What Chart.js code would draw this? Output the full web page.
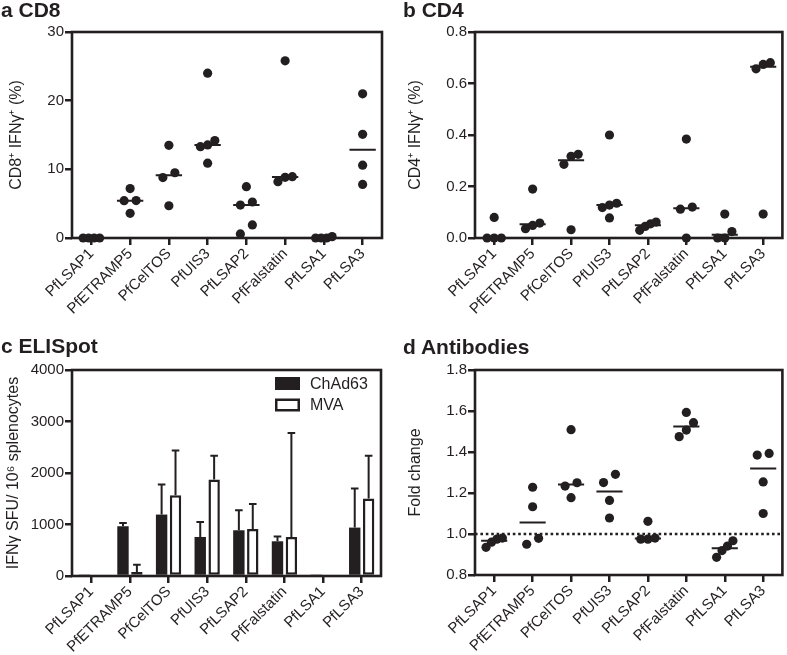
<!DOCTYPE html>
<html><head><meta charset="utf-8">
<script src="https://cdn.jsdelivr.net/npm/chart.js@4.4.1/dist/chart.umd.min.js"></script>
<style>
html,body{margin:0;padding:0;background:#fff;width:787px;height:655px;overflow:hidden;position:relative;}
canvas.panel{position:absolute;}
.title{position:absolute;font:bold 21px 'Liberation Sans',Arial,sans-serif;color:#231f20;line-height:21px;white-space:nowrap;}
</style></head><body>
<canvas id="ca" class="panel" width="395" height="330" style="left:0;top:0"></canvas>
<canvas id="cb" class="panel" width="392" height="330" style="left:395px;top:0"></canvas>
<canvas id="cc" class="panel" width="395" height="325" style="left:0;top:330px"></canvas>
<canvas id="cd" class="panel" width="392" height="325" style="left:395px;top:330px"></canvas>
<div class="title" style="left:1px;top:-1px">a CD8</div>
<div class="title" style="left:403px;top:-1px">b CD4</div>
<div class="title" style="left:1px;top:335px">c ELISpot</div>
<div class="title" style="left:403px;top:336px">d Antibodies</div>
<script>
// ---------- data ----------
const categories = ['PfLSAP1','PfETRAMP5','PfCelTOS','PfUIS3','PfLSAP2','PfFalstatin','PfLSA1','PfLSA3'];

const cd8Values = [
  [0, 0, 0, 0],
  [7.2, 3.6, 5.43, 5.45],
  [9.5, 8.8, 13.5, 4.7],
  [24.0, 13.55, 13.3, 14.2, 10.9],
  [7.47, 5.24, 4.8, 1.9, 0.6],
  [25.8, 8.93, 8.2, 8.83],
  [0, 0, 0, 0.2],
  [21.0, 15.1, 10.6, 7.8]
];
const cd8Ticks = [0, 10, 20, 30];

const cd4Values = [
  [0.08, 0, 0, 0],
  [0.19, 0.058, 0.036, 0.049],
  [0.317, 0.286, 0.325, 0.032],
  [0.40, 0.135, 0.118, 0.128, 0.078],
  [0.062, 0.03, 0.055, 0.045],
  [0.384, 0.12, 0.112, 0],
  [0.093, 0.025, 0, 0],
  [0.674, 0.657, 0.681, 0.093]
];
const cd4Ticks = [0, 0.2, 0.4, 0.6, 0.8];

const elispotChAd63 = [15, 966, 1193, 758, 888, 674, 15, 940];
const elispotChAd63Err = [0, 64, 583, 292, 389, 91, 0, 759];
const elispotMVA = [0, 78, 1569, 1874, 914, 758, 0, 1504];
const elispotMVAErr = [0, 142, 868, 460, 486, 2017, 0, 830];
const elispotTicks = [0, 1000, 2000, 3000, 4000];
const elispotSeries = ['ChAd63', 'MVA'];

const antibodyValues = [
  [0.975, 0.935, 0.96, 0.98],
  [1.228, 1.133, 0.95, 0.979],
  [1.509, 1.25, 1.234, 1.177],
  [1.251, 1.291, 1.164, 1.078],
  [1.062, 0.98, 0.975, 0.975],
  [1.593, 1.475, 1.507, 1.543],
  [0.967, 0.941, 0.919, 0.886],
  [1.385, 1.393, 1.254, 1.10]
];
const antibodyTicks = [0.8, 1.0, 1.2, 1.4, 1.6, 1.8];
const antibodyBaseline = 1.0;

// ---------- styling ----------
const INK = '#231f20';
const FONT = "'Liberation Sans', Arial, Helvetica, sans-serif";
Chart.defaults.font.family = FONT;
Chart.defaults.color = INK;
const DOT_R = 4.6;
const PLOT_H = 206;      // approx plot height (px) used only for overlap detection
const CAT_W = 38.75;     // approx category width (px) used for horizontal spread

function median(a) {
  const s = a.slice().sort((x, y) => x - y);
  const m = Math.floor(s.length / 2);
  return s.length % 2 ? s[m] : (s[m - 1] + s[m]) / 2;
}

// spread overlapping dots horizontally (simple beeswarm)
function swarm(groups, yMin, yMax) {
  const dotU = (yMax - yMin) * 2 * DOT_R / PLOT_H;
  const pts = [];
  groups.forEach((vals, ci) => {
    const sorted = vals.slice().sort((a, b) => a - b);
    const clusters = [];
    sorted.forEach(v => {
      const last = clusters[clusters.length - 1];
      if (last && v - last[last.length - 1] < dotU) last.push(v); else clusters.push([v]);
    });
    clusters.forEach(cl => {
      const n = cl.length;
      const sp = (n === 2 ? 12 : n === 3 ? 7.2 : 5.5) / CAT_W;
      cl.forEach((v, k) => pts.push({ x: ci + (k - (n - 1) / 2) * sp, y: v }));
    });
  });
  return pts;
}

function medianSegments(groups) {
  const d = [];
  groups.forEach((vals, ci) => {
    const m = median(vals);
    d.push({ x: ci - 0.34, y: m }, { x: ci + 0.34, y: m }, { x: ci + 0.5, y: null });
  });
  return d;
}

const framePlugin = {
  id: 'frame',
  afterDatasetsDraw(chart) {
    const { ctx, chartArea: a } = chart;
    ctx.save();
    ctx.strokeStyle = INK;
    ctx.lineWidth = 2.6;
    ctx.strokeRect(a.left, a.top, a.right - a.left, a.bottom - a.top);
    ctx.restore();
  }
};

const errorBarPlugin = {
  id: 'errorBars',
  afterDatasetsDraw(chart) {
    const { ctx } = chart;
    const ys = chart.scales.y;
    ctx.save();
    ctx.strokeStyle = INK;
    ctx.lineWidth = 2;
    chart.data.datasets.forEach((ds, i) => {
      if (!ds.errorBars) return;
      chart.getDatasetMeta(i).data.forEach((bar, j) => {
        const e = ds.errorBars[j];
        if (!e) return;
        const top = ys.getPixelForValue(ds.data[j] + e);
        ctx.beginPath();
        ctx.moveTo(bar.x, bar.y);
        ctx.lineTo(bar.x, top);
        ctx.moveTo(bar.x - 3.8, top);
        ctx.lineTo(bar.x + 3.8, top);
        ctx.stroke();
      });
    });
    ctx.restore();
  }
};

const insideLegend = {
  id: 'insideLegend',
  afterDraw(chart) {
    const { ctx, chartArea: a } = chart;
    ctx.save();
    ctx.font = '16px ' + FONT;
    ctx.textBaseline = 'middle';
    ctx.textAlign = 'left';
    chart.data.datasets.forEach((ds, i) => {
      const cy = a.top + 13.5 + i * 21.5;
      const bx = a.right - 106, bw = 25, bh = 13;
      ctx.fillStyle = ds.backgroundColor;
      ctx.fillRect(bx, cy - bh / 2, bw, bh);
      const lw = ds.borderWidth || 0;
      if (lw) {
        ctx.lineWidth = lw;
        ctx.strokeStyle = ds.borderColor;
        ctx.strokeRect(bx + lw / 2, cy - bh / 2 + lw / 2, bw - lw, bh - lw);
      }
      ctx.fillStyle = INK;
      ctx.fillText(ds.label, a.right - 71, cy + 1);
    });
    ctx.restore();
  }
};

function yScale(ticks, title, titlePad, fmt, width) {
  return {
    type: 'linear', min: ticks[0], max: ticks[ticks.length - 1],
    afterBuildTicks: s => { s.ticks = ticks.map(v => ({ value: v })); },
    afterFit: s => { s.width = width; },
    border: { display: false },
    grid: { drawOnChartArea: false, drawTicks: true, tickLength: 7, lineWidth: 2.5, color: INK },
    ticks: { color: INK, font: { size: 15 }, padding: 1, callback: v => fmt(v) },
    title: { display: true, text: title, color: INK, font: { size: 16 }, padding: { top: titlePad, bottom: 0 } }
  };
}

function xScaleLinear(height) {
  return {
    type: 'linear', min: -0.5, max: categories.length - 0.5,
    afterBuildTicks: s => { s.ticks = categories.map((c, i) => ({ value: i })); },
    afterFit: s => { s.height = height; },
    border: { display: false },
    grid: { drawOnChartArea: false, drawTicks: true, tickLength: 7, lineWidth: 2.5, color: INK },
    ticks: { color: INK, font: { size: 15 }, autoSkip: false, minRotation: 45, maxRotation: 45, padding: 0,
             callback: v => categories[Math.round(v)] }
  };
}

function dotChart(id, groups, ticks, title, titlePad, fmt, yWidth, xHeight, padding, extra) {
  const datasets = [
    { type: 'scatter', data: swarm(groups, ticks[0], ticks[ticks.length - 1]),
      backgroundColor: INK, borderColor: INK, pointRadius: DOT_R, pointHoverRadius: DOT_R, borderWidth: 0, clip: false, order: 1 },
    { type: 'line', data: medianSegments(groups), borderColor: INK, borderWidth: 2, pointRadius: 0,
      spanGaps: false, clip: false, order: 2 }
  ];
  if (extra) datasets.push(extra);
  return new Chart(document.getElementById(id), {
    type: 'scatter',
    data: { datasets },
    options: {
      responsive: false, animation: false, events: [],
      layout: { padding },
      plugins: { legend: { display: false }, tooltip: { enabled: false } },
      scales: { x: xScaleLinear(xHeight), y: yScale(ticks, title, titlePad, fmt, yWidth) }
    },
    plugins: [framePlugin]
  });
}

const intFmt = v => String(v);
const oneDec = v => Number(v).toFixed(1);

dotChart('ca', cd8Values, cd8Ticks, 'CD8\u207A IFN\u03B3\u207A (%)', 7, intFmt, 72, 92,
  { top: 32, right: 13, left: 0, bottom: 0 });
dotChart('cb', cd4Values, cd4Ticks, 'CD4\u207A IFN\u03B3\u207A (%)', 11, oneDec, 80, 92,
  { top: 32, right: 2, left: 0, bottom: 0 });
dotChart('cd', antibodyValues, antibodyTicks, 'Fold change', 11, oneDec, 80, 80,
  { top: 40, right: 2, left: 0, bottom: 0 },
  { type: 'line', data: [{ x: -0.5, y: antibodyBaseline }, { x: categories.length - 0.5, y: antibodyBaseline }],
    borderColor: INK, borderWidth: 2.7, borderDash: [2.6, 2.8], pointRadius: 0, order: 3 });

new Chart(document.getElementById('cc'), {
  type: 'bar',
  data: {
    labels: categories,
    datasets: [
      { label: elispotSeries[0], data: elispotChAd63, errorBars: elispotChAd63Err,
        backgroundColor: INK, borderColor: INK, borderWidth: 0, borderSkipped: false,
        categoryPercentage: 0.72, barPercentage: 0.82 },
      { label: elispotSeries[1], data: elispotMVA, errorBars: elispotMVAErr,
        backgroundColor: '#ffffff', borderColor: INK, borderWidth: 2.5, borderSkipped: false,
        categoryPercentage: 0.72, barPercentage: 0.82 }
    ]
  },
  options: {
    responsive: false, animation: false, events: [],
    layout: { padding: { top: 40, right: 14, left: 0, bottom: 0 } },
    plugins: { legend: { display: false }, tooltip: { enabled: false } },
    scales: {
      x: {
        type: 'category', offset: true,
        afterFit: s => { s.height = 79; },
        border: { display: false },
        grid: { offset: false, drawOnChartArea: false, drawTicks: true, tickLength: 7, lineWidth: 2.5, color: INK },
        ticks: { color: INK, font: { size: 15 }, autoSkip: false, minRotation: 45, maxRotation: 45, padding: 0 }
      },
      y: yScale(elispotTicks, 'IFN\u03B3 SFU/ 10\u2076 splenocytes', 4, intFmt, 72)
    }
  },
  plugins: [errorBarPlugin, framePlugin, insideLegend]
});
</script>
</body></html>
